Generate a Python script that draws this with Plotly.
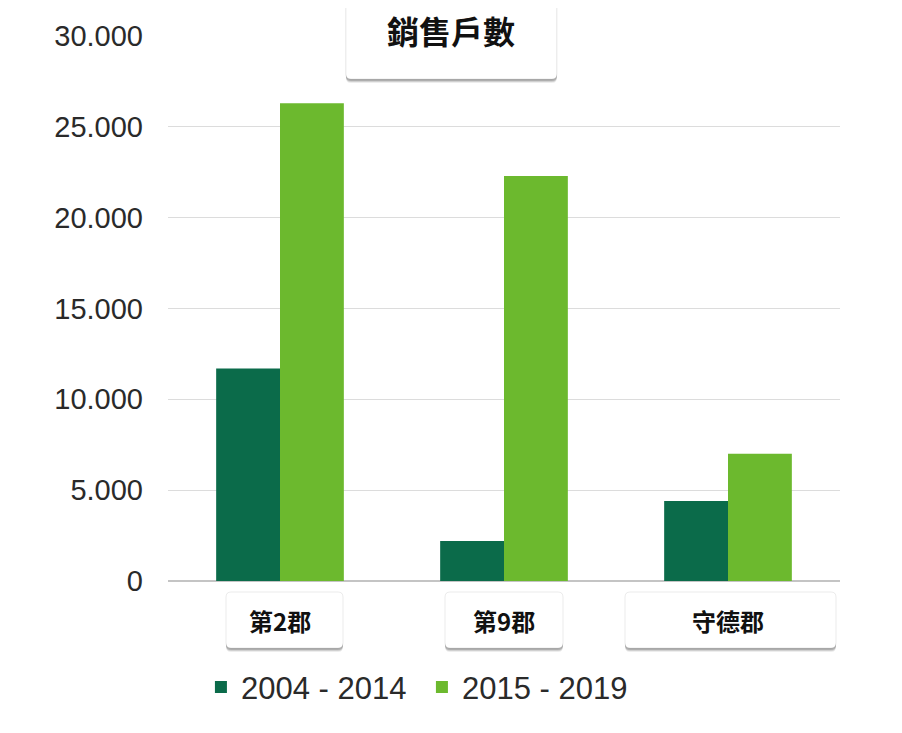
import plotly.graph_objects as go

# data
districts = ["第2郡", "第9郡", "守德郡"]
series_names = ["2004 - 2014", "2015 - 2019"]
sales_2004_2014 = [11700, 2200, 4400]
sales_2015_2019 = [26300, 22300, 7000]
chart_title = "銷售戶數"

# style
colors = ["#0b6b4a", "#6cb92e"]
label_box_half = [(-54, 63), (-59, 59), (-103, 108)]  # px around each category
tick_font = "Liberation Sans, Arial, sans-serif"
cjk_font = "Noto Sans CJK TC, Noto Sans CJK SC, sans-serif"


def rounded_rect(x0, x1, y0, y1, r):
    # y grows upward (pixel sizemode)
    return (f"M{x0 + r},{y0} L{x1 - r},{y0} Q{x1},{y0} {x1},{y0 + r} "
            f"L{x1},{y1 - r} Q{x1},{y1} {x1 - r},{y1} L{x0 + r},{y1} "
            f"Q{x0},{y1} {x0},{y1 - r} L{x0},{y0 + r} Q{x0},{y0} {x0 + r},{y0} Z")


def card(xref, x_anchor, y_anchor, x0, x1, y0, y1):
    # soft shadow + white rounded card
    out = []
    for dy, alpha in [(4, 0.07), (3, 0.12), (2, 0.16)]:
        out.append(dict(
            type="path", layer="above",
            xref=xref, xsizemode="pixel", xanchor=x_anchor,
            yref="paper", ysizemode="pixel", yanchor=y_anchor,
            path=rounded_rect(x0, x1, y0 - dy, y1 - dy, 5),
            fillcolor=f"rgba(0,0,0,{alpha})", line=dict(width=0),
        ))
    out.append(dict(
        type="path", layer="above",
        xref=xref, xsizemode="pixel", xanchor=x_anchor,
        yref="paper", ysizemode="pixel", yanchor=y_anchor,
        path=rounded_rect(x0, x1, y0, y1, 5),
        fillcolor="white", line=dict(color="rgba(0,0,0,0.08)", width=1),
    ))
    return out


fig = go.Figure()
for name, vals, col in zip(series_names, [sales_2004_2014, sales_2015_2019], colors):
    fig.add_trace(go.Bar(x=districts, y=vals, name=name, marker=dict(color=col, line=dict(width=0))))

shapes = []
# title card
shapes += card("paper", 0.421, 1, -105, 106, -43, 35)
# category cards (below the axis)
for i, (a, b) in enumerate(label_box_half):
    shapes += card("x", i, 0, a, b, -67, -11)
# thin frame line on the right
shapes.append(dict(type="line", xref="paper", yref="paper", x0=1.083, x1=1.083,
                   y0=-0.3, y1=1.1, line=dict(color="#e6e6e6", width=2)))

annotations = [
    dict(x=d, xref="x", y=0, yref="y", yshift=-39, text="<b>" + d + "</b>", showarrow=False,
         font=dict(family=cjk_font, size=24, color="#111"))
    for d in districts
]

fig.update_layout(
    width=894, height=725,
    margin=dict(l=160, r=62, t=19, b=152),
    paper_bgcolor="white", plot_bgcolor="white",
    separators=",.",
    barmode="group", bargap=0.43, bargroupgap=0,
    title=dict(text="<b>" + chart_title + "</b>", x=443 / 894, xanchor="center", xref="container",
               y=1 - 25 / 725, yanchor="middle",
               font=dict(family=cjk_font, size=32, color="#111")),
    xaxis=dict(showticklabels=False, showgrid=False, ticks="", showline=False, zeroline=False),
    yaxis=dict(range=[0, 30000], dtick=5000, tickformat=",d", showgrid=True,
               gridcolor="#dcdcdc", gridwidth=1, zeroline=True, zerolinecolor="#c4c4c4",
               zerolinewidth=1.5, showline=False, ticks="", ticklabelstandoff=24,
               tickfont=dict(family=tick_font, size=29, color="#2a2a2a")),
    legend=dict(orientation="h", x=0.049, xanchor="left", y=-0.195, yanchor="middle",
                font=dict(family=tick_font, size=31, color="#2a2a2a"),
                entrywidth=176, entrywidthmode="pixels"),
    shapes=shapes,
    annotations=annotations,
)

fig.write_html("out.html")
